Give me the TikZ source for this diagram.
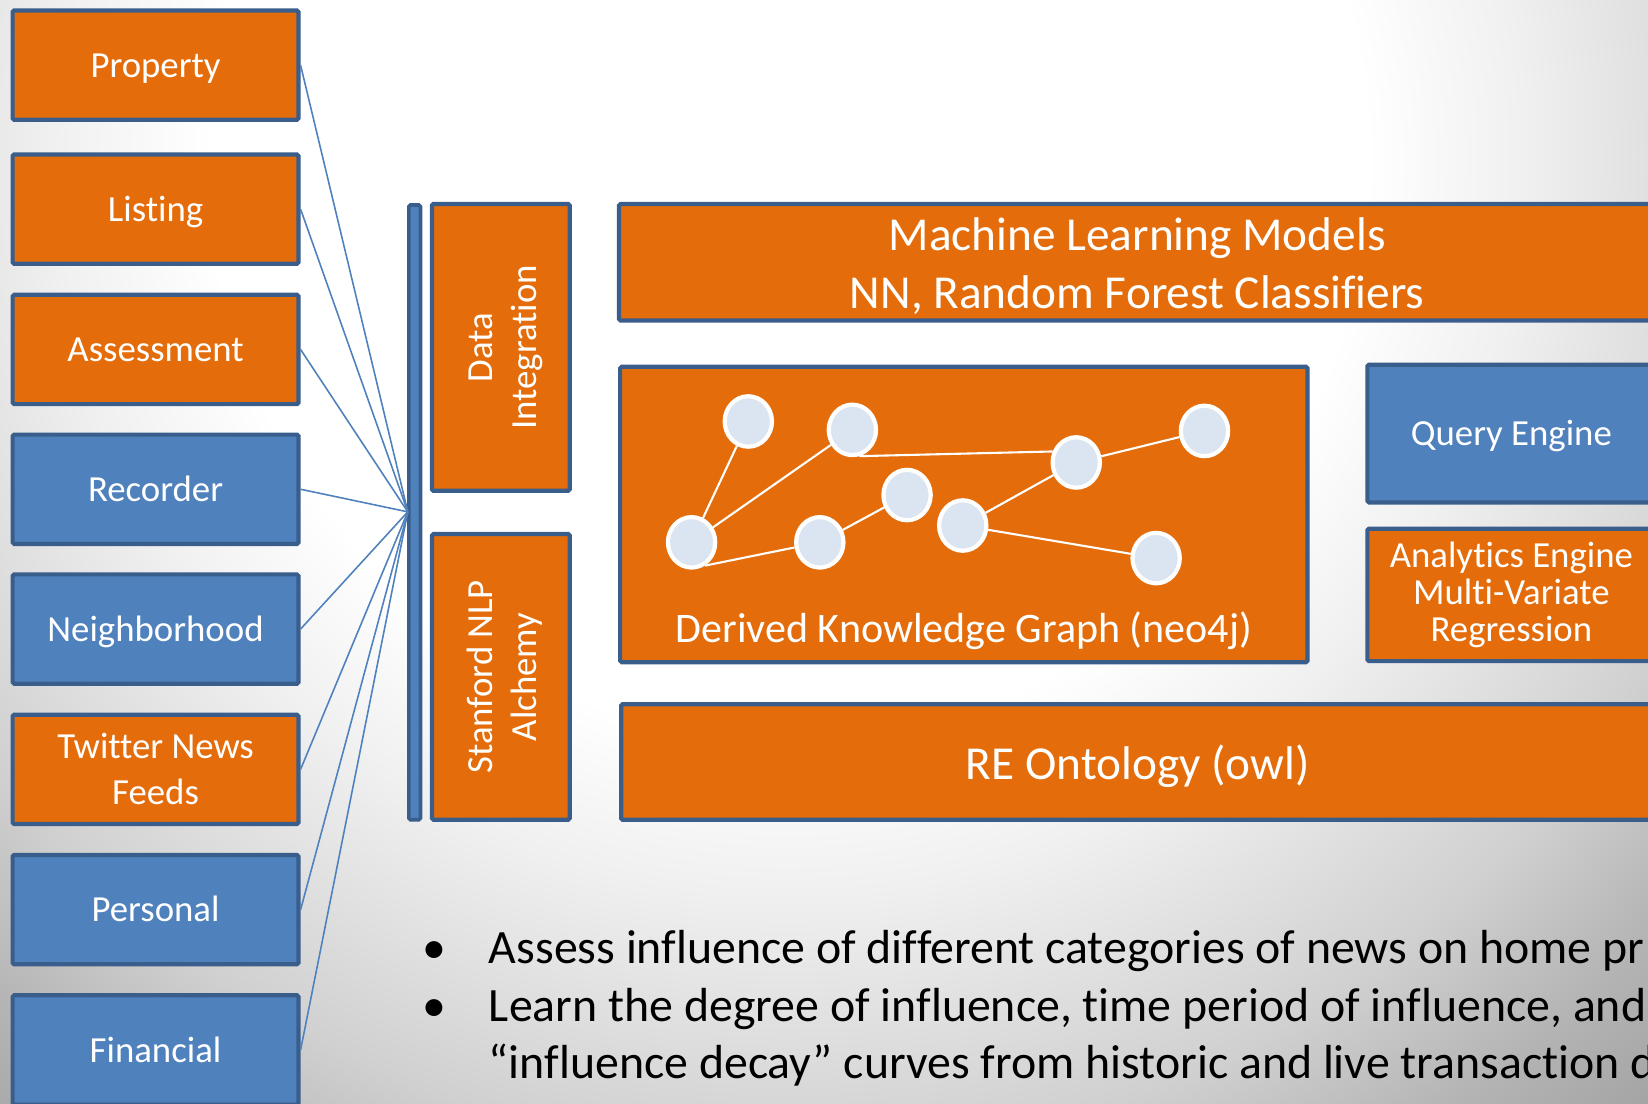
\documentclass[tikz,border=0pt]{standalone}
\usepackage{fontspec}
\setmainfont{Carlito}[Ligatures={NoCommon}]
\usetikzlibrary{shapes.geometric}
\definecolor{orng}{HTML}{E46C0A}
\definecolor{blu}{HTML}{4F81BD}
\definecolor{bord}{HTML}{3A5E8C}
\definecolor{gnode}{HTML}{DBE5F1}
\definecolor{bgA}{HTML}{F0F0F0}
\definecolor{bgB}{HTML}{D0D0D0}
\definecolor{bgC}{HTML}{B4B4B4}
\definecolor{bgdark}{HTML}{A0A0A0}
\pgfdeclareradialshading{bgshade}{\pgfpoint{0bp}{0bp}}{color(0bp)=(white); color(5.5bp)=(white); color(7bp)=(bgA); color(9.5bp)=(bgB); color(11bp)=(bgC); color(12.5bp)=(bgdark); color(50bp)=(bgdark)}
\tikzset{
  box/.style={draw=bord, line width=4pt, rounded corners=1.5pt, text=white, align=center, inner sep=0pt},
  srcbox/.style={box, minimum width=272pt, minimum height=104pt, font=\fontsize{35}{43}\selectfont, text height=26pt, text depth=3pt},
  obox/.style={fill=orng},
  bbox/.style={fill=blu},
  link/.style={draw=blu, line width=1.5pt},
  gnd/.style={ellipse, draw=white, line width=4pt, fill=gnode, minimum width=45pt, minimum height=48pt, inner sep=0pt},
  gedge/.style={draw=white, line width=2pt},
  bul/.style={font=\fontsize{45.5}{55}\selectfont, anchor=base west, inner sep=0pt}
}
\begin{document}
\begin{tikzpicture}[x=1pt,y=-1pt]
\useasboundingbox (0,0) rectangle (1568,1050);
\clip (0,0) rectangle (1568,1050);
\fill[bgdark] (0,0) rectangle (1568,1050);
\path[shading=bgshade] (750,150) circle [radius=2500];

% left source boxes
\node[srcbox, obox] (prop) at (148,62) {Property};
\node[srcbox, obox] (list) at (148,199) {Listing};
\node[srcbox, obox] (assess) at (148,332.5) {Assessment};
\node[srcbox, bbox] (rec) at (148,465.5) {Recorder};
\node[srcbox, bbox] (neigh) at (148,598.5) {Neighborhood};
\node[srcbox, obox, text height=69pt] (tw) at (148,732) {Twitter News\\Feeds};
\node[srcbox, bbox] (pers) at (148,865.5) {Personal};
\node[srcbox, bbox] (fin) at (148,999) {Financial};

% bar
\node[box, bbox, line width=3.5pt, minimum width=11pt, minimum height=585pt] (bar) at (394.5,487.5) {};
\coordinate (hub) at (388,487);

\foreach \n in {prop,list,assess,rec,neigh,tw,pers,fin}
  \draw[link] (\n.east) -- (hub);

% data integration / nlp
\node[box, obox, rotate=90, minimum width=273pt, minimum height=131pt, font=\fontsize{35}{42}\selectfont, text height=71pt, text depth=3pt] (di) at (476.5,330.5) {Data\\Integration};
\node[box, obox, rotate=90, minimum width=272pt, minimum height=131pt, font=\fontsize{35}{42}\selectfont, text height=71pt, text depth=3pt] (nlp) at (476.5,644) {Stanford NLP\\Alchemy};

% ML
\node[box, obox, minimum width=986pt, minimum height=111pt, font=\fontsize{45}{55}\selectfont, text height=91pt, text depth=3pt] (ml) at (1082,249.5) {Machine Learning Models\\NN, Random Forest Classifiers};

% graph box
\node[box, obox, minimum width=654pt, minimum height=281pt] (kg) at (917,489.5) {};
\node[text=white, font=\fontsize{40}{48}\selectfont, inner sep=0pt, anchor=base] (kgl) at (917,611) {Derived Knowledge Graph (neo4j)};

\node[gnd] (g1) at (712,401) {};
\node[gnd] (g2) at (811,409) {};
\node[gnd] (g3) at (1146,410) {};
\node[gnd] (g4) at (1024,440) {};
\node[gnd] (g5) at (863,471) {};
\node[gnd] (g6) at (916,500) {};
\node[gnd] (g7) at (658,516) {};
\node[gnd] (g8) at (780,516) {};
\node[gnd] (g9) at (1100,531) {};
\draw[gedge] (g7) -- (g1);
\draw[gedge] (g7) -- (g2);
\draw[gedge] (g7.-60) -- (g8);
\draw[gedge] (g8) -- (g5);
\draw[gedge] (g2.-75) -- (g4.155);
\draw[gedge] (g4) -- (g3);
\draw[gedge] (g6) -- (g4);
\draw[gedge] (g6) -- (g9);

% right boxes
\node[box, bbox, minimum width=274pt, minimum height=131pt, font=\fontsize{35}{42}\selectfont, text height=26pt, text depth=3pt] (qe) at (1438,412.5) {Query Engine};
\node[box, obox, minimum width=274pt, minimum height=126pt, font=\fontsize{35}{35}\selectfont, text height=91pt, text depth=3pt] (ae) at (1438,566) {Analytics Engine\\Multi-Variate\\Regression};
\node[box, obox, minimum width=983pt, minimum height=110pt, font=\fontsize{45}{54}\selectfont, text height=36pt, text depth=3pt] (re) at (1082.5,725) {RE Ontology (owl)};

% bullets
\node[bul, anchor=base] (b1) at (413,917) {•};
\node[bul, anchor=base] (b2) at (413,972) {•};
\node[bul] (t1) at (465,917) {Assess influence of different categories of news on home pr};
\node[bul] (t2) at (465,972) {Learn the degree of influence, time period of influence, and};
\node[bul] (t3) at (465,1026) {“influence decay” curves from historic and live transaction d};
\end{tikzpicture}
\end{document}
